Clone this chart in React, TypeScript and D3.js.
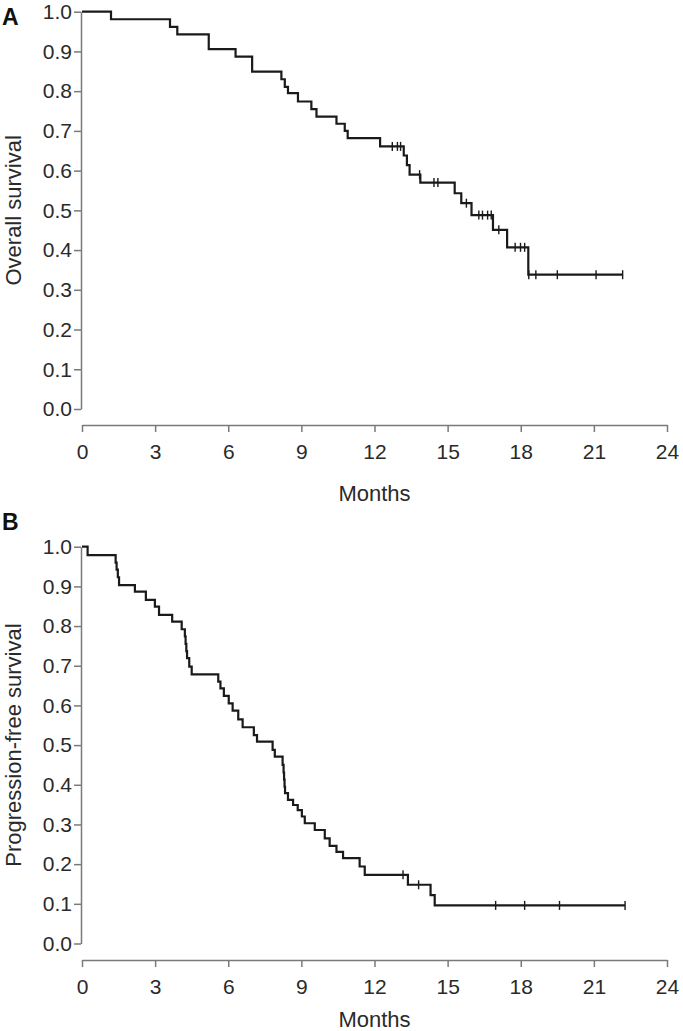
import React, { useEffect, useRef } from "react";
import * as d3 from "d3";

const xTicks = [0, 3, 6, 9, 12, 15, 18, 21, 24];
const yTicks = [0, 0.1, 0.2, 0.3, 0.4, 0.5, 0.6, 0.7, 0.8, 0.9, 1.0];

// Panel A: overall survival
const osEventMonths = [
  1.19, 3.61, 3.91, 5.2, 6.3, 6.98, 8.18, 8.32, 8.45, 8.86, 9.41, 9.62, 10.44,
  10.78, 10.9, 12.23, 13.2, 13.33, 13.44, 13.88, 15.29, 15.56, 15.98, 16.86,
  17.44, 18.31,
];
const osSurvival = [
  0.981, 0.962, 0.943, 0.906, 0.887, 0.849, 0.83, 0.811, 0.795, 0.774, 0.755,
  0.736, 0.718, 0.7, 0.682, 0.661, 0.638, 0.614, 0.59, 0.57, 0.543, 0.518,
  0.488, 0.451, 0.407, 0.338,
];
const osCensorMonths = [
  12.73, 12.94, 13.07, 13.85, 14.44, 14.6, 15.77, 16.28, 16.43, 16.64, 16.79,
  17.1, 17.77, 17.99, 18.16, 18.33, 18.62, 19.5, 21.09, 22.18,
];

// Panel B: progression-free survival
const pfsEventMonths = [
  0.23, 1.38, 1.42, 1.47, 1.52, 2.17, 2.62, 2.99, 3.16, 3.7, 4.09, 4.22, 4.25,
  4.28, 4.31, 4.4, 4.5, 5.59, 5.68, 5.82, 6.02, 6.18, 6.41, 6.59, 7.05, 7.18,
  7.82, 7.91, 8.23, 8.27, 8.29, 8.31, 8.33, 8.45, 8.66, 8.85, 9.02, 9.14, 9.55,
  9.96, 10.16, 10.44, 10.71, 11.39, 11.6, 13.37, 14.3, 14.47,
];
const pfsSurvival = [
  0.979, 0.96, 0.942, 0.923, 0.903, 0.887, 0.866, 0.849, 0.828, 0.811, 0.792,
  0.774, 0.755, 0.737, 0.719, 0.698, 0.678, 0.66, 0.643, 0.624, 0.605, 0.587,
  0.565, 0.545, 0.525, 0.509, 0.488, 0.471, 0.45, 0.431, 0.413, 0.395, 0.379,
  0.362, 0.349, 0.336, 0.32, 0.303, 0.286, 0.265, 0.246, 0.231, 0.215, 0.194,
  0.173, 0.148, 0.122, 0.096,
];
const pfsCensorMonths = [13.17, 13.81, 16.97, 18.16, 19.59, 22.28];

const FONT = "'Liberation Sans', Arial, Helvetica, sans-serif";
const AXIS_COLOR = "#7a7a7a";
const TEXT_COLOR = "#2a2a2a";
const CURVE_COLOR = "#1a1a1a";

const panels = [
  {
    tag: "A",
    yTitle: "Overall survival",
    events: osEventMonths,
    surv: osSurvival,
    censors: osCensorMonths,
    yTop: 11.7,
    yBottom: 409,
    xAxisY: 425,
    monthsY: 501,
    tagY: 25,
  },
  {
    tag: "B",
    yTitle: "Progression-free survival",
    events: pfsEventMonths,
    surv: pfsSurvival,
    censors: pfsCensorMonths,
    yTop: 546.7,
    yBottom: 943.5,
    xAxisY: 960,
    monthsY: 1027,
    tagY: 530,
  },
];

export default function App() {
  const svgRef = useRef<SVGSVGElement | null>(null);

  useEffect(() => {
    if (!svgRef.current) return;
    const svg = d3.select(svgRef.current);
    svg.selectAll("*").remove();

    const x = d3.scaleLinear().domain([0, 24]).range([82, 667]);

    panels.forEach((p) => {
      const y = d3.scaleLinear().domain([0, 1]).range([p.yBottom, p.yTop]);
      const g = svg.append("g");

      // survival at time t (step function)
      const survAt = (t: number) => {
        let s = 1;
        p.events.forEach((e, i) => {
          if (e <= t) s = p.surv[i];
        });
        return s;
      };

      const lastTime = d3.max([...p.events, ...p.censors]) as number;
      const pts: [number, number][] = [[0, 1]];
      p.events.forEach((e, i) => pts.push([e, p.surv[i]]));
      pts.push([lastTime, p.surv[p.surv.length - 1]]);

      // Y axis
      const yAxis = g
        .append("g")
        .attr("transform", "translate(81,0)")
        .call(
          d3
            .axisLeft(y)
            .tickValues(yTicks)
            .tickFormat(d3.format(".1f"))
            .tickSize(7)
            .tickSizeOuter(0)
            .tickPadding(2)
        );

      // X axis
      const xAxis = g
        .append("g")
        .attr("transform", `translate(0,${p.xAxisY})`)
        .call(
          d3
            .axisBottom(x)
            .tickValues(xTicks)
            .tickFormat(d3.format("d"))
            .tickSize(7)
            .tickSizeOuter(0)
            .tickPadding(12)
        );

      [yAxis, xAxis].forEach((ax) => {
        ax.select(".domain").attr("stroke", AXIS_COLOR).attr("stroke-width", 1.5);
        ax.selectAll(".tick line").attr("stroke", AXIS_COLOR).attr("stroke-width", 1.5);
        ax.selectAll(".tick text")
          .attr("fill", TEXT_COLOR)
          .style("font-size", "21px")
          .style("font-family", FONT);
      });

      // Survival curve
      const line = d3
        .line<[number, number]>()
        .x((d) => x(d[0]))
        .y((d) => y(d[1]))
        .curve(d3.curveStepAfter);

      g.append("path")
        .attr("d", line(pts) || "")
        .attr("fill", "none")
        .attr("stroke", CURVE_COLOR)
        .attr("stroke-width", 2.2);

      // Censor marks
      g.selectAll(".censor")
        .data(p.censors)
        .enter()
        .append("line")
        .attr("x1", (d) => x(d))
        .attr("x2", (d) => x(d))
        .attr("y1", (d) => y(survAt(d)) - 4.5)
        .attr("y2", (d) => y(survAt(d)) + 4.5)
        .attr("stroke", CURVE_COLOR)
        .attr("stroke-width", 1.4);

      // Axis titles
      g.append("text")
        .attr("x", (x(0) + x(24)) / 2)
        .attr("y", p.monthsY)
        .attr("text-anchor", "middle")
        .attr("fill", TEXT_COLOR)
        .style("font-size", "22px")
        .style("font-family", FONT)
        .text("Months");

      g.append("text")
        .attr("transform", `translate(21,${(p.yTop + p.yBottom) / 2}) rotate(-90)`)
        .attr("text-anchor", "middle")
        .attr("fill", TEXT_COLOR)
        .style("font-size", "22px")
        .style("font-family", FONT)
        .text(p.yTitle);

      // Panel tag
      g.append("text")
        .attr("x", 2)
        .attr("y", p.tagY)
        .attr("fill", "#111")
        .style("font-size", "23px")
        .style("font-weight", "bold")
        .style("font-family", FONT)
        .text(p.tag);
    });
  }, []);

  return (
    <svg
      ref={svgRef}
      width={683}
      height={1031}
      style={{ position: "absolute", left: 0, top: 0, background: "#fff" }}
    />
  );
}
